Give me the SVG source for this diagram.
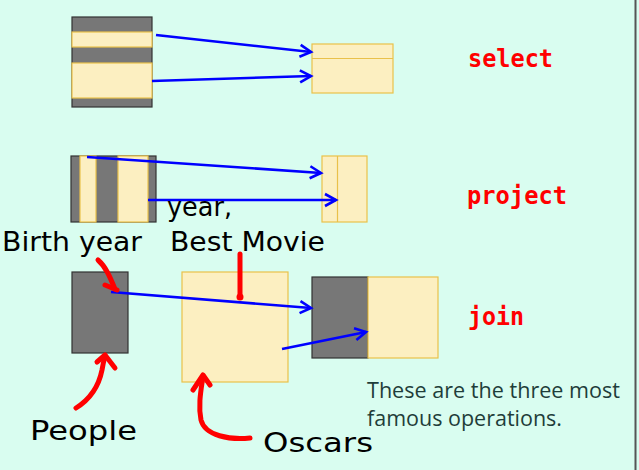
<svg xmlns="http://www.w3.org/2000/svg" width="639" height="470" viewBox="0 0 639 470">
<defs>
<style>
.y{fill:#fcefc1;stroke:#e9c14a;stroke-width:1.2}
.g{fill:#777777;stroke:#333333;stroke-width:1.2}
.bl{stroke:#0000ff;stroke-width:2.6;fill:none;marker-end:url(#ah)}
.rd{stroke:#ff0000;stroke-width:5;fill:none;stroke-linecap:round;stroke-linejoin:round}
.op{font-family:"DejaVu Sans Mono","Liberation Mono",monospace;font-weight:bold;font-size:24px;fill:#ff0000}
.hw{font-family:"DejaVu Sans","Liberation Sans",sans-serif;font-size:26px;fill:#000000}
.nt{font-family:"Open Sans","Noto Sans",sans-serif;font-size:21px;fill:#1f3d3a}
</style>
<marker id="ah" markerUnits="userSpaceOnUse" markerWidth="16" markerHeight="16" viewBox="-2 -8 16 16" refX="11" refY="0" orient="auto">
<path d="M0,-6 L11,0 L0,6" fill="none" stroke="#0000ff" stroke-width="2.6"/>
</marker>
</defs>
<rect x="0" y="0" width="639" height="470" fill="#d9fdf0"/>
<line x1="635.5" y1="0" x2="635.5" y2="470" stroke="#555555" stroke-width="2"/>

<g id="select-source">
<rect x="72" y="17" width="80" height="90" class="g"/>
<rect x="72" y="32" width="80" height="15" class="y"/>
<rect x="72" y="63" width="80" height="35" class="y"/>
</g>
<g id="select-result">
<rect x="312" y="44" width="81" height="49" class="y"/>
<line x1="312" y1="58.5" x2="393" y2="58.5" stroke="#e9c14a" stroke-width="1.2"/>
</g>
<g id="select-label"><text x="468" y="67" class="op" textLength="85" lengthAdjust="spacingAndGlyphs">select</text></g>

<g id="project-source">
<rect x="71" y="156" width="85" height="66" class="g"/>
<rect x="80" y="156" width="16" height="66" class="y"/>
<rect x="118" y="156" width="30" height="66" class="y"/>
</g>
<g id="project-result">
<rect x="322" y="156" width="45" height="66" class="y"/>
<line x1="337.5" y1="156" x2="337.5" y2="222" stroke="#e9c14a" stroke-width="1.2"/>
</g>
<g id="project-label"><text x="467" y="204" class="op" textLength="100" lengthAdjust="spacingAndGlyphs">project</text></g>

<g id="people">
<rect x="72" y="272" width="56" height="81" class="g"/>
</g>
<g id="oscars">
<rect x="182" y="272" width="106" height="110" class="y"/>
</g>
<g id="join-result">
<rect x="312" y="277" width="56" height="81" class="g"/>
<rect x="368" y="277" width="70" height="81" class="y"/>
</g>
<g id="join-label"><text x="468" y="325" class="op" textLength="56" lengthAdjust="spacingAndGlyphs">join</text></g>

<g id="connectors">
<line x1="156" y1="35" x2="311" y2="52" class="bl"/>
<line x1="152" y1="81" x2="311" y2="76" class="bl"/>
<line x1="87" y1="157" x2="321" y2="173" class="bl"/>
<line x1="148" y1="200" x2="336" y2="200" class="bl"/>
<line x1="111" y1="292" x2="311" y2="308" class="bl"/>
<line x1="282" y1="349" x2="366" y2="332" class="bl"/>
</g>

<g id="annotations">
<path d="M98,260 C106,267 110,277 115,289" class="rd"/>
<path d="M105,285 L117,290" class="rd"/>
<path d="M240,254 L240,296" class="rd"/>
<circle cx="240" cy="297" r="3.5" fill="#ff0000"/>
<path d="M76,408 C92,398 99,385 102,370 C103,364 104,360 105,356" class="rd"/>
<path d="M97,362 L105,355 L115,368" class="rd"/>
<path d="M250,438 C230,440 205,436 201,420 C198,405 201,390 203,376" class="rd"/>
<path d="M193,390 L203,375 L210,385" class="rd"/>
<text x="2" y="251" class="hw" textLength="140" lengthAdjust="spacingAndGlyphs">Birth year</text>
<text x="167" y="216" class="hw" textLength="65" lengthAdjust="spacingAndGlyphs">year,</text>
<text x="170" y="251" class="hw" textLength="155" lengthAdjust="spacingAndGlyphs">Best Movie</text>
<text x="30" y="440" class="hw" textLength="107" lengthAdjust="spacingAndGlyphs">People</text>
<text x="263" y="452" class="hw" textLength="110" lengthAdjust="spacingAndGlyphs">Oscars</text>
</g>

<g id="note">
<text x="367" y="398" class="nt" textLength="253" lengthAdjust="spacingAndGlyphs">These are the three most</text>
<text x="367" y="426" class="nt" textLength="195" lengthAdjust="spacingAndGlyphs">famous operations.</text>
</g>
</svg>
